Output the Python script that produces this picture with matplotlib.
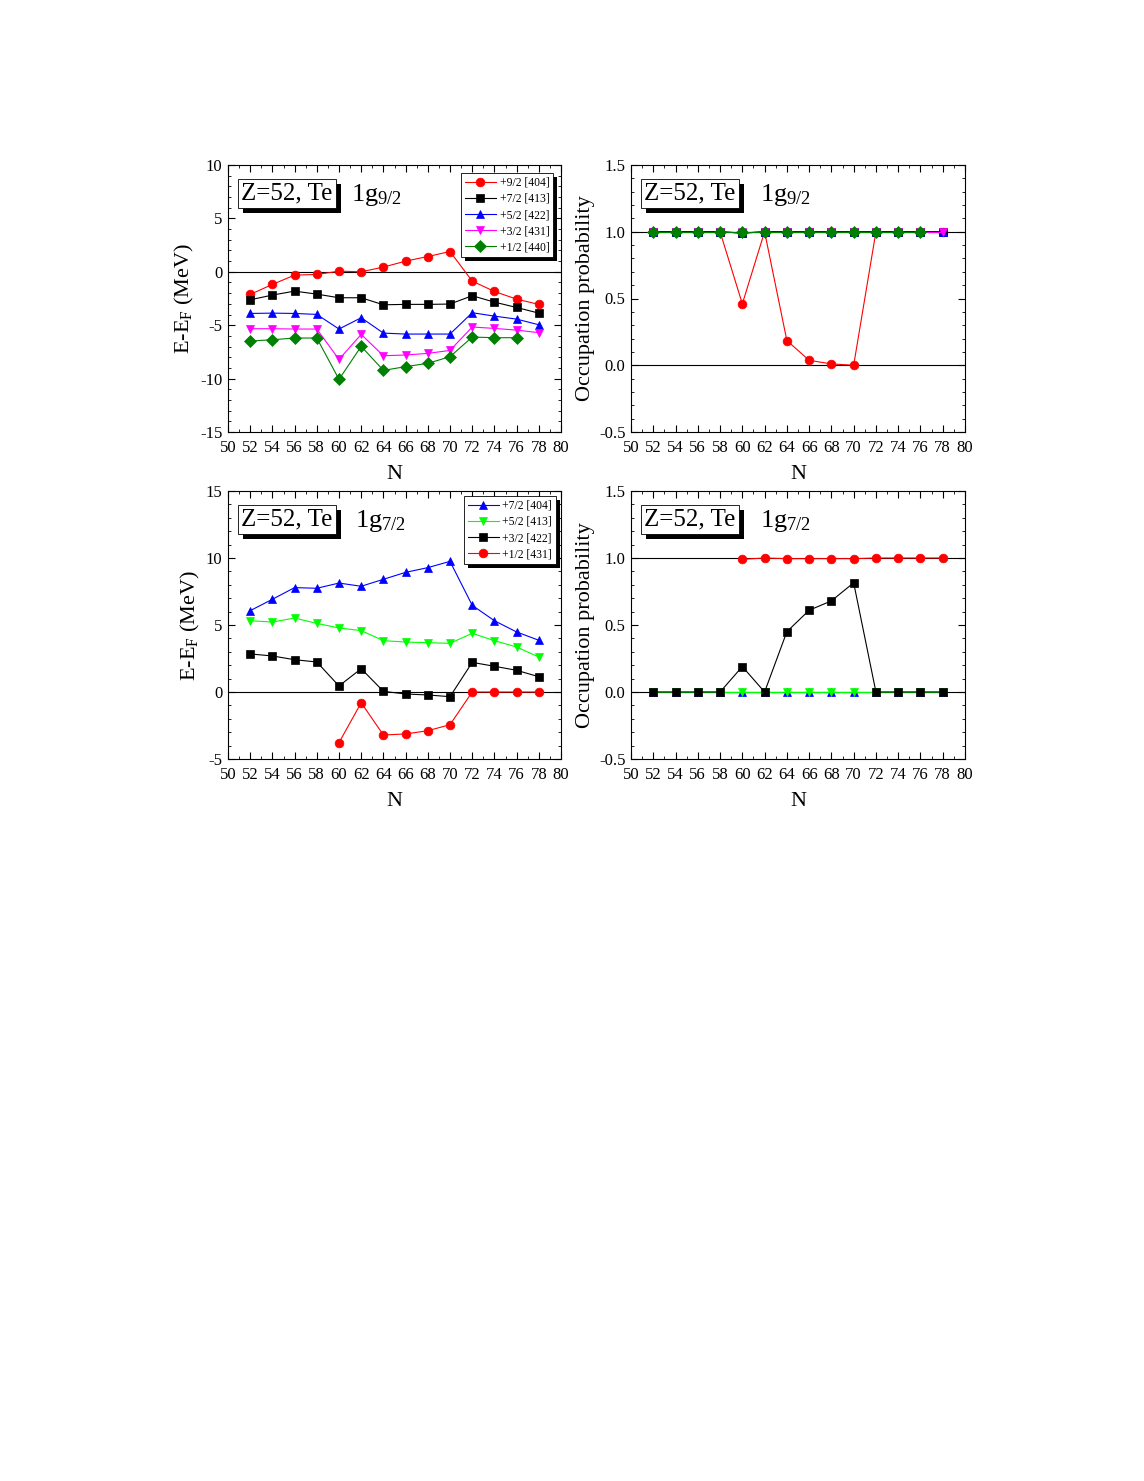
import matplotlib
matplotlib.use('Agg')
import matplotlib.pyplot as plt
from matplotlib.ticker import MultipleLocator, FormatStrFormatter
from matplotlib.patches import Rectangle
import numpy as np

plt.rcParams['font.family'] = ['Liberation Serif', 'DejaVu Serif']
plt.rcParams['mathtext.fontset'] = 'custom'
plt.rcParams['mathtext.rm'] = 'Liberation Serif'
plt.rcParams['mathtext.default'] = 'regular'
plt.rcParams['axes.unicode_minus'] = False

N = [52, 54, 56, 58, 60, 62, 64, 66, 68, 70, 72, 74, 76, 78]

# 1g9/2 single particle energies E-EF (MeV)
g9_labels = ['+9/2 [404]', '+7/2 [413]', '+5/2 [422]', '+3/2 [431]', '+1/2 [440]']
g9_e_92 = [-2.12, -1.18, -0.31, -0.25, 0.06, 0.0, 0.44, 1.0, 1.43, 1.9, -0.87, -1.84, -2.56, -3.05]
g9_e_72 = [-2.62, -2.18, -1.81, -2.09, -2.43, -2.43, -3.09, -3.05, -3.05, -3.02, -2.24, -2.84, -3.34, -3.87]
g9_e_52 = [-3.9, -3.87, -3.9, -3.99, -5.36, -4.3, -5.74, -5.83, -5.83, -5.83, -3.83, -4.15, -4.43, -4.96]
g9_e_32 = [-5.33, -5.33, -5.36, -5.36, -8.2, -5.86, -7.86, -7.79, -7.64, -7.36, -5.17, -5.3, -5.46, -5.7]
g9_e_12 = [-6.48, -6.36, -6.2, -6.2, -10.07, -6.98, -9.23, -8.88, -8.57, -7.95, -6.11, -6.17, -6.17, np.nan]

# 1g9/2 occupation probabilities
g9_v_92 = [1.0, 1.0, 1.0, 1.0, 0.46, 1.0, 0.185, 0.037, 0.01, 0.0, 1.0, 1.0, 1.0, 1.0]
g9_v_72 = [1.0, 1.0, 1.0, 1.0, 0.99, 1.0, 1.0, 1.0, 1.0, 1.0, 1.0, 1.0, 1.0, 1.0]
g9_v_52 = [1.0, 1.0, 1.0, 1.0, 0.99, 1.0, 1.0, 1.0, 1.0, 1.0, 1.0, 1.0, 1.0, 1.0]
g9_v_32 = [1.0, 1.0, 1.0, 1.0, 1.0, 1.0, 1.0, 1.0, 1.0, 1.0, 1.0, 1.0, 1.0, 1.0]
g9_v_12 = [1.0, 1.0, 1.0, 1.0, 1.0, 1.0, 1.0, 1.0, 1.0, 1.0, 1.0, 1.0, 1.0, np.nan]

# 1g7/2 single particle energies
g7_labels = ['+7/2 [404]', '+5/2 [413]', '+3/2 [422]', '+1/2 [431]']
g7_e_72 = [6.07, 6.92, 7.79, 7.74, 8.13, 7.89, 8.41, 8.93, 9.28, 9.75, 6.47, 5.32, 4.48, 3.86]
g7_e_52 = [5.32, 5.22, 5.52, 5.12, 4.78, 4.58, 3.83, 3.73, 3.68, 3.63, 4.38, 3.83, 3.36, 2.61]
g7_e_32 = [2.84, 2.69, 2.41, 2.24, 0.45, 1.74, 0.05, -0.15, -0.22, -0.35, 2.21, 1.92, 1.62, 1.14]
g7_e_12 = [np.nan, np.nan, np.nan, np.nan, -3.78, -0.8, -3.21, -3.13, -2.89, -2.44, 0.0, 0.0, 0.0, 0.0]

# 1g7/2 occupation probabilities
g7_v_72 = [0.0] * 14
g7_v_52 = [0.0] * 14
g7_v_32 = [0.0, 0.0, 0.0, 0.0, 0.19, 0.0, 0.45, 0.61, 0.68, 0.815, 0.0, 0.0, 0.0, 0.0]
g7_v_12 = [np.nan, np.nan, np.nan, np.nan, 0.99, 1.0, 0.995, 0.995, 0.995, 0.995, 1.0, 1.0, 1.0, 1.0]

g9_styles = [('#ff0000', 'o'), ('black', 's'), ('#0000ff', '^'), ('#ff00ff', 'v'), ('#008000', 'D')]
g7_styles = [('#0000ff', '^'), ('#00ff00', 'v'), ('black', 's'), ('#ff0000', 'o')]

fig = plt.figure(figsize=(11.44, 14.81), dpi=100)
W, H = 1144.0, 1481.0


def add_ax(x0, y0, x1, y1):
    return fig.add_axes([x0 / W, 1 - y1 / H, (x1 - x0) / W, (y1 - y0) / H])


ax1 = add_ax(228, 165, 561, 432)
ax2 = add_ax(631, 165, 965, 432)
ax3 = add_ax(228, 491, 561, 759)
ax4 = add_ax(631, 491, 965, 759)


def style_ax(ax, ylim, ymaj, ymin, ylabel):
    ax.set_xlim(50, 80)
    ax.set_ylim(*ylim)
    ax.xaxis.set_major_locator(MultipleLocator(2))
    ax.xaxis.set_minor_locator(MultipleLocator(1))
    ax.yaxis.set_major_locator(MultipleLocator(ymaj))
    ax.yaxis.set_minor_locator(MultipleLocator(ymin))
    ax.tick_params(which='both', direction='in', top=True, right=True, labelsize=12)
    ax.tick_params(axis='x', pad=6)
    ax.tick_params(axis='y', pad=4)
    ax.tick_params(which='major', length=5, width=0.8)
    ax.tick_params(which='minor', length=2.5, width=0.6)
    ax.set_xlabel('N', fontsize=16, labelpad=6)
    ax.set_ylabel(ylabel, fontsize=16, labelpad=3)
    for s in ax.spines.values():
        s.set_linewidth(0.8)


shadowed = []


def tag(ax, level, x1g):
    t = ax.text(0.04, 0.935, 'Z=52, Te', transform=ax.transAxes, fontsize=18, ha='left', va='top',
                bbox=dict(boxstyle='square,pad=0.15', fc='white', ec='black', lw=0.6), zorder=6)
    shadowed.append((ax, t.get_bbox_patch(), 5))
    ax.text(x1g, 0.865, '1g$_{%s}$' % level, transform=ax.transAxes, fontsize=19, ha='left',
            va='baseline', zorder=6)


def add_legend(ax, pad):
    leg = ax.legend(loc='upper right', fontsize=8.4, frameon=True, fancybox=False, framealpha=1,
                    edgecolor='black', borderpad=0.3, labelspacing=0.36, handlelength=2.7,
                    handletextpad=0.3, borderaxespad=pad)
    leg.get_frame().set_linewidth(0.6)
    leg.set_zorder(7)
    shadowed.append((ax, leg.get_frame(), 4))


def plot_series(ax, series, styles, labels):
    for ys, (c, m), lab in zip(series, styles, labels):
        ax.plot(N, ys, color=c, marker=m, markersize=6.3 if m != 'D' else 5.7, linewidth=0.8,
                markeredgewidth=0.5, markeredgecolor=c, label=lab, zorder=3)


plot_series(ax1, [g9_e_92, g9_e_72, g9_e_52, g9_e_32, g9_e_12], g9_styles, g9_labels)
ax1.axhline(0, color='black', lw=0.8, zorder=2)
style_ax(ax1, (-15, 10), 5, 1, 'E-E$_F$ (MeV)')
tag(ax1, '9/2', 0.37)
add_legend(ax1, 0.7)

plot_series(ax2, [g9_v_92, g9_v_72, g9_v_52, g9_v_32, g9_v_12], g9_styles, g9_labels)
ax2.axhline(0, color='black', lw=0.8, zorder=2)
ax2.axhline(1, color='black', lw=0.8, zorder=2)
style_ax(ax2, (-0.5, 1.5), 0.5, 0.1, 'Occupation probability')
ax2.yaxis.set_major_formatter(FormatStrFormatter('%.1f'))
tag(ax2, '9/2', 0.385)

plot_series(ax3, [g7_e_72, g7_e_52, g7_e_32, g7_e_12], g7_styles, g7_labels)
ax3.axhline(0, color='black', lw=0.8, zorder=2)
style_ax(ax3, (-5, 15), 5, 1, 'E-E$_F$ (MeV)')
tag(ax3, '7/2', 0.38)
add_legend(ax3, 0.45)

plot_series(ax4, [g7_v_72, g7_v_52, g7_v_32, g7_v_12], g7_styles, g7_labels)
ax4.axhline(0, color='black', lw=0.8, zorder=2)
ax4.axhline(1, color='black', lw=0.8, zorder=2)
style_ax(ax4, (-0.5, 1.5), 0.5, 0.1, 'Occupation probability')
ax4.yaxis.set_major_formatter(FormatStrFormatter('%.1f'))
tag(ax4, '7/2', 0.385)

# black drop shadows behind the label boxes and legends
fig.canvas.draw()
for ax, patch, off in shadowed:
    bb = patch.get_window_extent()
    (x0, y0), (x1, y1) = ax.transAxes.inverted().transform([(bb.x0 + off, bb.y0 - off),
                                                            (bb.x1 + off, bb.y1 - off)])
    ax.add_artist(Rectangle((x0, y0), x1 - x0, y1 - y0, transform=ax.transAxes,
                            facecolor='black', edgecolor='none', zorder=5, clip_on=False))

fig.savefig('out.png', dpi=100)
